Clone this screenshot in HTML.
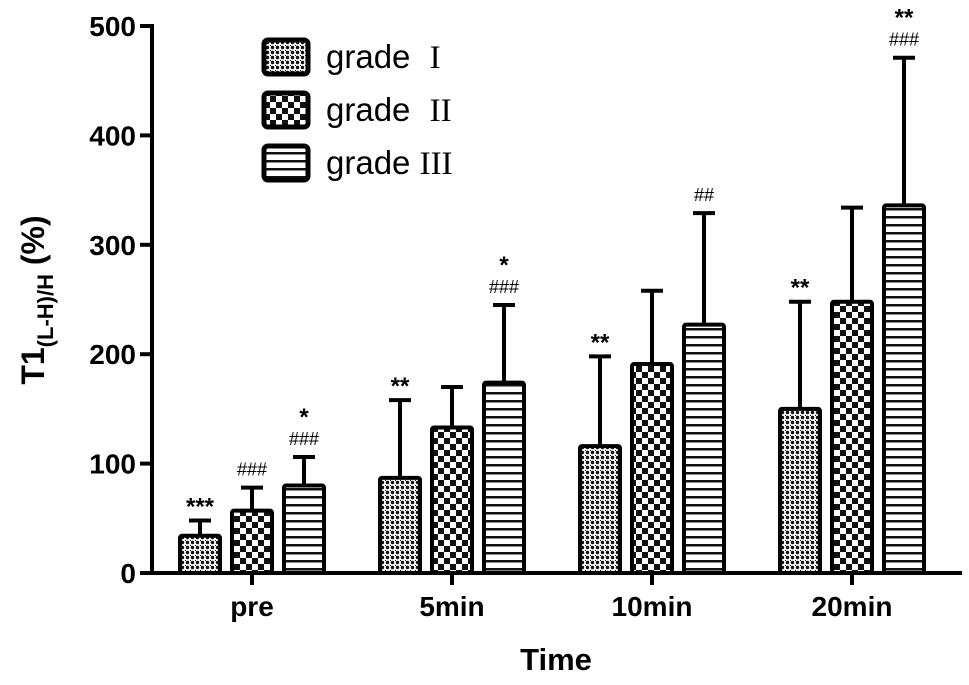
<!DOCTYPE html>
<html><head><meta charset="utf-8"><style>
body{margin:0;background:#fff}
svg text{font-family:"Liberation Sans",Arial,sans-serif}
</style></head><body>
<svg id="c" width="969" height="680" viewBox="0 0 969 680">
<defs>
<pattern id="p1" width="5" height="5" patternUnits="userSpaceOnUse"><rect width="5" height="5" fill="#fff"/><circle cx="2.5" cy="2.5" r="1.7" fill="#111"/><rect x="0" y="0" width="1" height="1" fill="#111"/></pattern>
<pattern id="p2" width="12" height="12" patternUnits="userSpaceOnUse"><rect width="12" height="12" fill="#111"/><rect width="6" height="6" fill="#fff"/><rect x="6" y="6" width="6" height="6" fill="#fff"/></pattern>
<pattern id="p3" width="8" height="8" patternUnits="userSpaceOnUse"><rect width="8" height="8" fill="#fff"/><rect y="0" width="8" height="2.5" fill="#111"/></pattern>
</defs>
<g id="plot"></g>
</svg>
<script>
const categories=["pre","5min","10min","20min"];
const seriesNames=["grade","grade","grade"];
const romans=["I","II","III"];
const grade1=[34,87,116,150];
const grade2=[57,133,191,248];
const grade3=[80,174,227,336];
const err1=[48,158,198,248];
const err2=[78,170,258,334];
const err3=[106,245,329,471];
const ann1=[["***"],["**"],["**"],["**"]];
const ann2=[["###"],[],[],[]];
const ann3=[["*","###"],["*","###"],["##"],["**","###"]];
const yTicks=[0,100,200,300,400,500];
const NS="http://www.w3.org/2000/svg";
const g=document.getElementById('plot');
const y0=573,ppu=1.094,axX=152;
const Y=v=>y0-v*ppu;
const X=i=>252+i*200;
function mk(t,a,p){const e=document.createElementNS(NS,t);for(const k in a)e.setAttribute(k,a[k]);(p||g).appendChild(e);return e;}
let e=mk('line',{x1:axX,y1:Y(500)-2,x2:axX,y2:y0+2,stroke:'#000','stroke-width':4});

e=mk('line',{x1:axX-2,y1:y0,x2:962,y2:y0,stroke:'#000','stroke-width':4});

yTicks.forEach(v=>{
 mk('line',{x1:axX-12,y1:Y(v),x2:axX,y2:Y(v),stroke:'#000','stroke-width':4});
 const t=mk('text',{x:axX-16,y:Y(v)+10,'text-anchor':'end','font-size':28,'font-weight':'bold'});
 t.textContent=v;
 
 
});
const series=[grade1,grade2,grade3],errs=[err1,err2,err3],anns=[ann1,ann2,ann3],pats=['p1','p2','p3'];
categories.forEach((c,i)=>{
 mk('line',{x1:X(i),y1:y0,x2:X(i),y2:y0+12,stroke:'#000','stroke-width':4});
 const t=mk('text',{x:X(i),y:616,'text-anchor':'middle','font-size':28,'font-weight':'bold'});
 t.textContent=c;
 
 
 series.forEach((s,j)=>{
  const cx=X(i)+(j-1)*52, w=40;
  mk('line',{x1:cx,y1:Y(errs[j][i]),x2:cx,y2:Y(s[i]),stroke:'#000','stroke-width':4});
  mk('line',{x1:cx-11,y1:Y(errs[j][i]),x2:cx+11,y2:Y(errs[j][i]),stroke:'#000','stroke-width':4});
  const r=mk('rect',{x:cx-w/2,y:Y(s[i]),width:w,height:s[i]*ppu,fill:'url(#'+pats[j]+')',stroke:'#000','stroke-width':4,rx:2});
  
  
  const a=anns[j][i];
  a.forEach((s2,k)=>{
   const isStar=s2[0]==='*';
   const yy=Y(errs[j][i])-12-(a.length-1-k)*26;
   const tt=mk('text',{x:cx,y:isStar?yy+6:yy,'text-anchor':'middle','font-size':isStar?24:18,'font-weight':isStar?'bold':'normal','font-family':isStar?'Liberation Sans,sans-serif':'Liberation Serif,serif'});
   tt.textContent=s2;
   
   
  });
 });
});
seriesNames.forEach((n,j)=>{
 const ly=58+j*53;
 const r=mk('rect',{x:264,y:ly-18,width:44,height:34,fill:'url(#'+pats[j]+')',stroke:'#000','stroke-width':5,rx:4});
 
 
 const t=mk('text',{x:326,y:ly+10,'font-size':33});
 t.textContent=n+' ';
 
 
 const ts=mk('tspan',{'font-family':'Liberation Serif,serif','font-size':33,dx:j==2?0:10},t);
 ts.textContent=romans[j];
});
let t=mk('text',{x:556,y:670,'text-anchor':'middle','font-size':31,'font-weight':'bold'});t.textContent='Time';

t=mk('text',{transform:'translate(44,300) rotate(-90)','text-anchor':'middle','font-size':32,'font-weight':'bold'});

t.innerHTML='T1<tspan font-size="22" dy="9">(L-H)/H</tspan><tspan dy="-9"> (%)</tspan>';
</script>
</body></html>
